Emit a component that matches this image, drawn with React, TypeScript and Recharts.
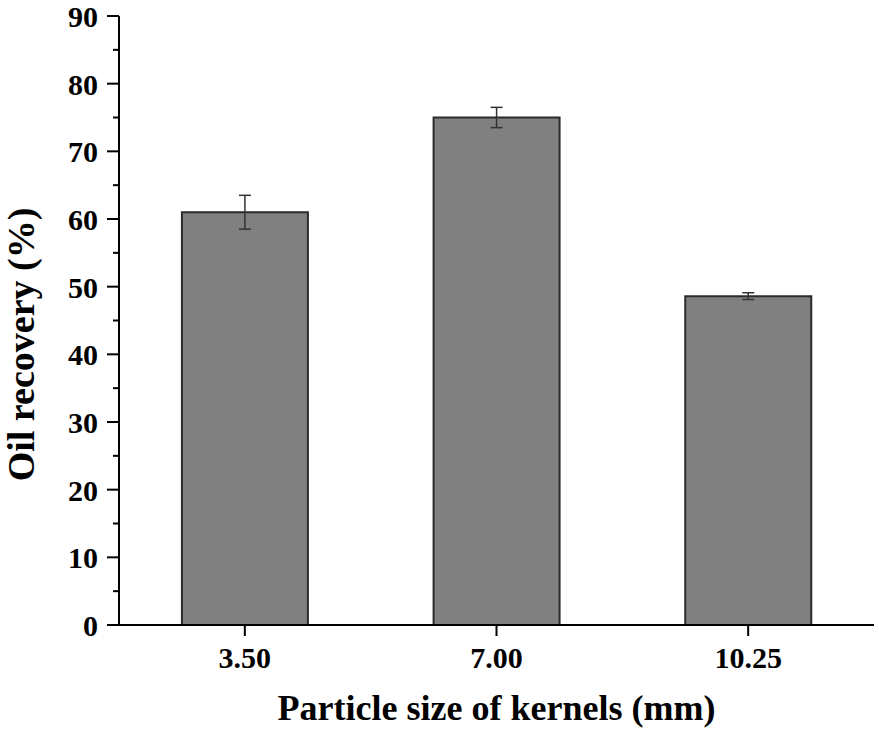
import React from 'react';
import { BarChart, Bar, XAxis, YAxis, ErrorBar } from 'recharts';

const categories = ['3.50', '7.00', '10.25'];
const recovery = [61, 75, 48.6];
const errors = [2.5, 1.5, 0.5];
const yTicks = [0, 5, 10, 15, 20, 25, 30, 35, 40, 45, 50, 55, 60, 65, 70, 75, 80, 85, 90];

const data = categories.map((c, i) => ({ size: c, value: recovery[i], err: errors[i] }));

const FONT = '"Liberation Serif", "Times New Roman", serif';

const YTick = (props: any) => {
  const { x, y, payload } = props;
  const major = payload.value % 10 === 0;
  return (
    <g>
      <line x1={x - (major ? 12 : 6)} y1={y} x2={x} y2={y} stroke="#000" strokeWidth={2} />
      {major && (
        <text x={x - 21} y={y + 11} textAnchor="end" fontFamily={FONT} fontWeight="bold" fontSize={30} fill="#000">
          {payload.value}
        </text>
      )}
    </g>
  );
};

const XTick = (props: any) => {
  const { x, y, payload } = props;
  return (
    <g>
      <line x1={x} y1={y} x2={x} y2={y + 11} stroke="#000" strokeWidth={2} />
      <text x={x} y={y + 43} textAnchor="middle" fontFamily={FONT} fontWeight="bold" fontSize={30} fill="#000">
        {payload.value}
      </text>
    </g>
  );
};

const YTitle = (props: any) => {
  const vb = props.viewBox || {};
  const cx = (vb.x || 0) + 34;
  const cy = (vb.y || 0) + (vb.height || 0) / 2 + 24;
  return (
    <text
      x={cx}
      y={cy}
      transform={`rotate(-90, ${cx}, ${cy})`}
      textAnchor="middle"
      fontFamily={FONT}
      fontWeight="bold"
      fontSize={38}
      fill="#000"
    >
      Oil recovery (%)
    </text>
  );
};

export default function App() {
  return (
    <div style={{ position: 'absolute', left: 0, top: 0, background: '#fff' }}>
      <BarChart
        width={879}
        height={738}
        data={data}
        margin={{ top: 16, right: 5, bottom: 0, left: 0 }}
        barCategoryGap="25%"
      >
        <XAxis
          xAxisId="edge"
          type="number"
          domain={[0, 3]}
          ticks={[0, 3]}
          allowDataOverflow
          height={1}
          tick={false}
          tickSize={6}
          axisLine={false}
          tickLine={{ stroke: '#000', strokeWidth: 2 }}
        />
        <XAxis
          xAxisId="cat"
          dataKey="size"
          height={112}
          tickSize={0}
          tickMargin={0}
          tickLine={false}
          tick={<XTick />}
          axisLine={{ stroke: '#000', strokeWidth: 2 }}
          label={{
            value: 'Particle size of kernels (mm)',
            position: 'insideBottom',
            offset: 17,
            style: { fontFamily: FONT, fontWeight: 'bold', fontSize: 36, fill: '#000' },
          }}
        />
        <YAxis
          width={119}
          domain={[0, 90]}
          ticks={yTicks}
          interval={0}
          tickSize={0}
          tickMargin={0}
          tickLine={false}
          tick={<YTick />}
          axisLine={{ stroke: '#000', strokeWidth: 2 }}
          label={{ content: (p: any) => <YTitle {...p} /> }}
        />
        <Bar
          xAxisId="cat"
          dataKey="value"
          fill="#808080"
          stroke="#2b2b2b"
          strokeWidth={2}
          isAnimationActive={false}
        >
          <ErrorBar dataKey="err" width={6} stroke="#333" strokeWidth={1.5} isAnimationActive={false} />
        </Bar>
      </BarChart>
    </div>
  );
}
